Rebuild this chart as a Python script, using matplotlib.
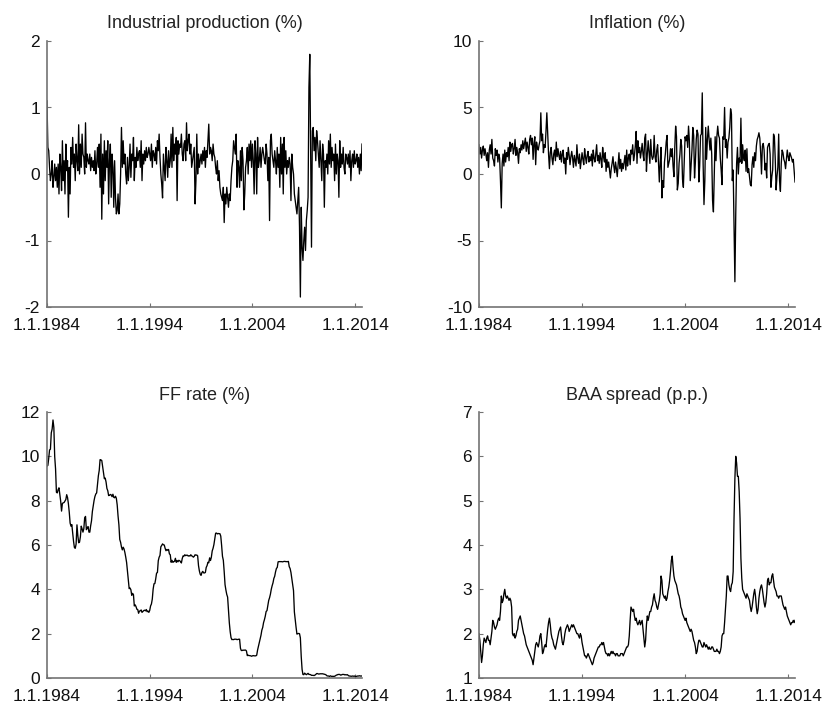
import numpy as np
import matplotlib
matplotlib.use('Agg')
import matplotlib.pyplot as plt

# monthly data, Jan 1984 - Sep 2014
ip = [1.1, 0.4, 0.35, 0.1, -0.1, 0.0, 0.2, -0.2, -0.05, 0.15, -0.1, 0.1,
      -0.2, 0.15, -0.3, 0.3, 0.1, -0.25, 0.5, -0.1, 0.2, -0.3, 0.45, 0.05,
      0.2, -0.65, 0.1, -0.3, 0.4, 0.15, 0.55, 0.1, 0.3, -0.1, 0.45, 0.2,
      0.05, 0.74, 0.0, 0.45, 0.1, 0.6, 0.3, 0.25, 0.0, 0.77, 0.1, 0.3,
      0.2, 0.15, 0.3, 0.05, 0.25, 0.1, 0.2, 0.05, 0.35, 0.0, 0.15, 0.4,
      0.1, 0.45, -0.2, 0.6, -0.68, 0.3, -0.3, 0.5, -0.1, 0.35, 0.1, 0.5,
      -0.45, 0.2, 0.45, -0.35, 0.3, 0.1, -0.5, 0.2, -0.35, -0.6, -0.55, -0.3,
      -0.6, -0.45, 0.0, 0.7, 0.1, 0.5, 0.15, 0.3, 0.0, -0.15, 0.25, -0.1,
      0.1, 0.45, -0.05, 0.3, 0.2, 0.55, -0.1, 0.25, 0.1, 0.4, 0.2, 0.3,
      0.35, 0.1, 0.5, -0.1, 0.3, 0.15, 0.35, 0.2, 0.4, 0.25, 0.3, 0.4,
      0.3, 0.2, 0.45, 0.1, 0.35, 0.3, 0.2, 0.4, 0.15, 0.5, 0.35, 0.6,
      0.25, 0.0, -0.15, -0.36, 0.3, 0.1, -0.1, 0.4, 0.2, -0.05, 0.35, 0.1,
      0.2, 0.6, 0.1, 0.7, 0.2, 0.45, 0.3, 0.55, -0.4, 0.5, 0.3, 0.45,
      0.4, 0.6, 0.3, 0.2, 0.45, 0.5, 0.2, 0.77, 0.35, 0.5, 0.6, 0.3,
      0.45, 0.1, 0.2, 0.3, 0.4, -0.45, -0.1, 0.6, 0.0, 0.3, 0.1, 0.2,
      0.3, 0.15, 0.35, 0.2, 0.4, 0.1, 0.35, 0.25, 0.5, 0.75, 0.3, 0.4,
      0.35, 0.2, 0.45, 0.3, 0.25, 0.1, 0.0, 0.2, -0.1, 0.05, -0.2, -0.3,
      -0.35, -0.4, -0.2, -0.73, -0.3, -0.45, -0.2, -0.35, -0.5, -0.3, -0.4, -0.1,
      0.1, 0.2, 0.5, 0.4, 0.3, 0.6, -0.2, 0.2, 0.1, -0.2, 0.35, -0.1,
      0.4, 0.2, -0.54, -0.3, 0.1, 0.2, 0.4, 0.0, 0.45, 0.2, 0.5, 0.1,
      0.45, 0.2, -0.3, 0.5, 0.3, -0.3, 0.55, 0.1, 0.2, 0.4, 0.1, 0.3,
      0.4, 0.3, 0.2, 0.15, 0.45, 0.3, -0.1, 0.25, -0.7, 0.5, 0.6, 0.3,
      0.2, 0.1, 0.35, 0.2, 0.0, 0.4, 0.1, 0.3, -0.2, 0.55, 0.0, 0.45,
      -0.3, 0.55, 0.1, 0.35, 0.0, 0.2, 0.1, 0.25, 0.15, -0.4, 0.3, 0.1,
      0.0, -0.3, -0.4, -0.5, -0.6, -0.4, -0.2, -0.8, -1.85, -0.5, -1.1, -1.3,
      -1.0, -0.8, -1.15, -0.7, -0.55, -0.35, 1.3, 1.8, 0.3, -1.1, 0.65, 0.7,
      0.35, 0.55, 0.2, 0.65, 0.5, 0.3, 0.1, 0.5, 0.2, -0.1, 0.45, 0.3,
      -0.5, 0.2, 0.1, 0.3, 0.0, 0.5, 0.15, 0.6, 0.1, 0.4, 0.2, 0.3,
      -0.1, 0.45, 0.0, 0.3, 0.2, -0.35, 0.5, 0.1, 0.3, 0.15, 0.4, 0.1,
      0.0, 0.3, 0.25, 0.15, 0.3, 0.1, 0.35, -0.1, 0.2, 0.3, 0.1, 0.35,
      0.15, 0.2, 0.3, 0.1, 0.25, 0.0, 0.3, 0.05, 0.45]

infl = [2.2, 1.5, 2.0, 1.2, 1.8, 2.1, 1.4, 1.9, 1.5, 1.0, 1.6, 0.5,
        1.8, 2.2, 1.5, 2.6, 1.2, 1.0, 0.6, 1.9, 1.4, 1.8, 0.9, 1.5,
        1.2, -0.5, -2.55, 0.8, 1.5, 0.6, 1.8, 0.9, 1.6, 1.3, 2.0, 1.0,
        2.4, 1.7, 2.2, 2.3, 1.5, 1.9, 2.6, 1.4, 2.0, 1.6, 0.8, 1.9,
        1.6, 2.2, 1.8, 2.5, 1.9, 2.3, 2.7, 1.7, 2.4, 2.0, 1.5, 2.6,
        2.9, 2.2, 2.7, 1.1, 2.3, 2.8, 0.7, 2.4, 2.0, 1.8, 2.2, 2.5,
        4.6, 2.5, 3.0, 1.6, 2.2, 2.0, 3.2, 4.6, 3.0, 1.5, 0.4, 1.6,
        2.0, 1.2, 0.7, 1.5, 1.8, 1.0, 2.4, 1.3, 1.9, 1.4, 1.1, 1.7,
        0.9, 1.5, 1.8, 0.8, 1.2, 0.0, 1.6, 1.1, 2.0, 1.4, 0.7, 1.3,
        1.7, 1.2, 0.5, 1.4, 1.0, 0.6, 2.2, 1.2, 0.8, 1.5, 0.4, 1.0,
        1.6, 1.1, 0.7, 1.9, 1.3, 0.8, 1.4, 1.7, 0.9, 1.3, 1.0, 1.5,
        0.6, 1.8, 1.2, 0.9, 1.5, 2.2, 1.0, 1.4, 0.8, 1.6, 1.1, 0.5,
        2.0, 1.3, 0.9, 1.6, 0.2, 1.1, 0.5, 0.9, 0.3, -0.3, 0.4, 0.8,
        1.3, 0.6, 0.1, 0.9, 0.4, -0.2, 0.7, 1.6, 0.4, 1.1, 0.2, 0.8,
        0.4, 0.9, 1.4, 0.3, 1.8, 0.6, 1.2, 1.5, 0.7, 1.8, 1.5, 2.2,
        1.0, 1.4, 2.1, 3.2, 0.8, 2.5, 1.6, 2.0, 1.2, 1.7, 2.3, 1.5,
        1.0, 2.7, 3.0, 0.2, 1.5, 2.5, 1.6, 0.8, 2.6, 1.4, 1.1, 1.3,
        2.9, 1.3, 0.9, 1.8, 2.2, 0.9, -0.6, 0.8, 2.0, -1.8, -0.5, -1.0,
        0.9, 1.5, 2.4, 2.9, 0.5, 0.8, 1.1, 1.9, 1.3, 1.9, 0.6, -0.2,
        2.0, 3.6, 2.8, -1.2, -0.7, 0.8, 1.5, 2.6, 2.1, -0.4, -1.0, 1.0,
        2.8, 2.5, 2.9, 2.0, 3.6, 2.5, -0.5, 0.7, 1.8, 3.5, 2.9, -0.3,
        0.9, 2.6, 3.3, 3.0, -0.6, 0.6, 2.9, 3.0, 6.1, 0.8, -2.3, -0.5,
        3.5, 1.1, 2.6, 3.6, 2.6, 1.8, 2.7, 1.5, -2.0, -2.85, 0.1, 2.8,
        1.0, 2.8, 3.6, 2.9, 2.7, 1.2, 0.3, -0.8, 2.8, 2.6, 5.0, 2.0,
        2.6, 1.2, 2.4, 2.7, 3.5, 4.9, 4.5, -0.5, 0.3, -4.0, -8.1, -3.0,
        0.8, 2.0, 0.0, 1.2, 0.9, 4.2, 0.8, 2.2, 1.3, 1.0, 1.8, 0.2,
        1.9, 0.1, 0.4, -0.2, -0.8, -0.9, 0.7, 1.3, 0.5, 1.6, 1.0, 2.1,
        2.6, 2.8, 3.1, 2.7, 1.6, 0.0, 2.1, 2.3, 1.8, 0.3, 0.8, -0.3,
        2.0, 2.2, 2.3, 1.5, -1.0, -0.2, 0.3, 3.0, 2.8, 1.1, -1.2, -0.2,
        0.5, 3.0, -0.5, -1.3, 0.8, 1.8, 1.6, 1.1, 0.9, 0.4, 1.1, 1.8,
        1.3, 1.0, 1.6, 1.4, 1.2, 0.9, 1.1, 0.3, -0.6]

ffr = [9.56, 9.59, 9.91, 10.29, 10.32, 11.06, 11.23, 11.64, 11.30, 9.99, 9.43, 8.38,
       8.35, 8.50, 8.58, 8.27, 7.97, 7.53, 7.88, 7.90, 7.92, 7.99, 8.05, 8.27,
       8.14, 7.86, 7.48, 6.99, 6.85, 6.92, 6.56, 6.17, 5.89, 5.85, 6.04, 6.91,
       6.43, 6.10, 6.13, 6.37, 6.85, 6.73, 6.58, 6.73, 7.22, 7.29, 6.69, 6.77,
       6.83, 6.58, 6.58, 6.87, 7.09, 7.51, 7.75, 8.01, 8.19, 8.30, 8.35, 8.76,
       9.12, 9.36, 9.85, 9.84, 9.81, 9.53, 9.24, 8.99, 9.02, 8.84, 8.55, 8.45,
       8.23, 8.24, 8.28, 8.26, 8.18, 8.29, 8.15, 8.13, 8.20, 8.11, 7.81, 7.31,
       6.91, 6.25, 6.12, 5.91, 5.78, 5.90, 5.82, 5.66, 5.45, 5.21, 4.81, 4.43,
       4.03, 4.06, 3.98, 3.73, 3.82, 3.76, 3.25, 3.30, 3.22, 3.10, 3.09, 2.92,
       3.02, 3.03, 3.07, 2.96, 3.00, 3.04, 3.06, 3.03, 3.09, 2.99, 3.02, 2.96,
       3.05, 3.25, 3.34, 3.56, 4.01, 4.25, 4.26, 4.47, 4.73, 4.76, 5.29, 5.45,
       5.53, 5.92, 5.98, 6.05, 6.01, 6.00, 5.85, 5.74, 5.80, 5.76, 5.80, 5.60,
       5.56, 5.22, 5.31, 5.22, 5.24, 5.27, 5.40, 5.22, 5.30, 5.24, 5.31, 5.29,
       5.25, 5.19, 5.39, 5.51, 5.50, 5.56, 5.52, 5.54, 5.54, 5.50, 5.52, 5.50,
       5.56, 5.51, 5.49, 5.45, 5.49, 5.56, 5.54, 5.55, 5.51, 5.07, 4.83, 4.68,
       4.63, 4.76, 4.81, 4.74, 4.74, 4.76, 4.99, 5.07, 5.22, 5.20, 5.42, 5.30,
       5.45, 5.73, 5.85, 6.02, 6.27, 6.53, 6.54, 6.50, 6.52, 6.51, 6.51, 6.40,
       5.98, 5.49, 5.31, 4.80, 4.21, 3.97, 3.77, 3.65, 3.07, 2.49, 2.09, 1.82,
       1.73, 1.74, 1.73, 1.75, 1.75, 1.75, 1.73, 1.74, 1.75, 1.75, 1.34, 1.24,
       1.24, 1.26, 1.25, 1.26, 1.26, 1.22, 1.01, 1.03, 1.01, 1.01, 1.00, 0.98,
       1.00, 1.01, 1.00, 1.00, 1.00, 1.03, 1.26, 1.43, 1.61, 1.76, 1.93, 2.16,
       2.28, 2.50, 2.63, 2.79, 3.00, 3.04, 3.26, 3.50, 3.62, 3.78, 4.00, 4.16,
       4.29, 4.49, 4.59, 4.79, 4.94, 4.99, 5.24, 5.25, 5.25, 5.25, 5.25, 5.24,
       5.25, 5.26, 5.26, 5.25, 5.25, 5.25, 5.26, 5.02, 4.94, 4.76, 4.49, 4.24,
       3.94, 2.98, 2.61, 2.28, 1.98, 2.00, 2.01, 2.00, 1.81, 0.97, 0.39, 0.16,
       0.15, 0.22, 0.18, 0.15, 0.18, 0.21, 0.16, 0.16, 0.15, 0.12, 0.12, 0.12,
       0.11, 0.13, 0.16, 0.20, 0.20, 0.18, 0.18, 0.19, 0.19, 0.19, 0.19, 0.18,
       0.17, 0.16, 0.14, 0.10, 0.09, 0.09, 0.07, 0.10, 0.08, 0.07, 0.08, 0.07,
       0.08, 0.10, 0.13, 0.14, 0.16, 0.16, 0.16, 0.13, 0.14, 0.16, 0.16, 0.16,
       0.14, 0.15, 0.14, 0.15, 0.11, 0.09, 0.09, 0.08, 0.08, 0.09, 0.08, 0.09,
       0.07, 0.07, 0.08, 0.09, 0.09, 0.10, 0.09, 0.09, 0.09]

baa = [2.0, 1.85, 1.6, 1.35, 1.5, 1.75, 1.9, 1.85, 1.8, 1.9, 1.95, 1.85,
       1.85, 1.75, 1.9, 2.05, 2.3, 2.25, 2.15, 2.1, 2.15, 2.2, 2.3, 2.35,
       2.3, 2.5, 2.85, 2.7, 2.75, 2.9, 3.0, 2.85, 2.8, 2.85, 2.8, 2.75,
       2.8, 2.75, 2.6, 2.0, 1.95, 2.0, 1.9, 1.95, 2.05, 2.1, 2.3, 2.35,
       2.4, 2.3, 2.2, 2.1, 2.0, 1.95, 1.85, 1.75, 1.7, 1.65, 1.6, 1.55,
       1.5, 1.45, 1.4, 1.3, 1.45, 1.6, 1.75, 1.8, 1.75, 1.7, 1.8, 1.95,
       2.0, 1.8, 1.55, 1.6, 1.7, 1.75, 1.7, 1.9, 2.1, 2.25, 2.35, 2.2,
       2.0, 1.9, 1.85, 1.75, 1.7, 1.65, 1.75, 1.85, 1.95, 2.05, 2.1, 2.15,
       1.95, 1.8, 1.75, 1.85, 2.0, 2.1, 2.15, 2.2, 2.15, 2.05, 2.1, 2.15,
       2.2, 2.15, 2.2, 2.15, 2.1, 2.05, 2.0, 2.0, 1.95, 1.9, 2.0, 1.95,
       1.8, 1.7, 1.6, 1.5, 1.5, 1.45, 1.5, 1.55, 1.5, 1.45, 1.4, 1.35,
       1.3, 1.35, 1.45, 1.5, 1.55, 1.6, 1.65, 1.7, 1.7, 1.75, 1.75, 1.8,
       1.75, 1.8, 1.7, 1.6, 1.55, 1.55, 1.5, 1.55, 1.5, 1.55, 1.6, 1.55,
       1.6, 1.55, 1.55, 1.5, 1.55, 1.55, 1.5, 1.5, 1.5, 1.55, 1.55, 1.55,
       1.5, 1.55, 1.6, 1.65, 1.7, 1.7, 1.75, 1.95, 2.3, 2.6, 2.55, 2.5,
       2.55, 2.4, 2.3, 2.35, 2.25, 2.2, 2.25, 2.3, 2.2, 2.25, 2.3, 2.1,
       1.9, 1.7, 1.85, 2.2, 2.4, 2.3, 2.4, 2.5, 2.5, 2.6, 2.65, 2.8,
       2.9, 2.75, 2.7, 2.6, 2.55, 2.65, 2.75, 2.9, 3.3, 3.2, 2.9, 2.85,
       2.8, 2.85, 2.75, 2.8, 2.95, 3.05, 3.2, 3.4, 3.65, 3.75, 3.5, 3.3,
       3.2, 3.15, 3.1, 3.0, 2.9, 2.85, 2.75, 2.6, 2.55, 2.45, 2.4, 2.35,
       2.3, 2.35, 2.25, 2.2, 2.15, 2.1, 2.05, 2.1, 2.05, 1.95, 1.85, 1.8,
       1.7, 1.55, 1.6, 1.75, 1.85, 1.85, 1.8, 1.75, 1.7, 1.7, 1.8, 1.75,
       1.7, 1.75, 1.7, 1.65, 1.7, 1.65, 1.65, 1.7, 1.7, 1.65, 1.6, 1.6,
       1.6, 1.65, 1.6, 1.6, 1.55, 1.6, 1.7, 1.95, 2.0, 2.0, 2.25, 2.55,
       2.85, 3.3, 3.3, 3.1, 3.0, 2.95, 3.1, 3.15, 3.4, 4.6, 5.5, 6.0,
       5.85, 5.55, 5.55, 5.2, 4.6, 3.7, 3.25, 3.0, 2.95, 2.9, 2.85, 2.8,
       2.9, 2.85, 2.8, 2.75, 2.6, 2.5, 2.6, 2.75, 2.9, 3.0, 2.85, 2.6,
       2.45, 2.55, 2.8, 2.95, 3.05, 3.1, 3.0, 2.85, 2.7, 2.6, 2.7, 2.9,
       3.2, 3.25, 3.1, 3.15, 3.15, 3.3, 3.35, 3.2, 3.05, 3.0, 2.95, 2.85,
       2.85, 2.8, 2.85, 2.85, 2.85, 2.75, 2.65, 2.6, 2.55, 2.6, 2.5, 2.4,
       2.35, 2.3, 2.25, 2.2, 2.25, 2.25, 2.3, 2.25, 2.3]

titles = ['Industrial production (%)', 'Inflation (%)', 'FF rate (%)', 'BAA spread (p.p.)']
series = [ip, infl, ffr, baa]
ylims = [(-2, 2), (-10, 10), (0, 12), (1, 7)]
yticks = [[-2, -1, 0, 1, 2], [-10, -5, 0, 5, 10], [0, 2, 4, 6, 8, 10, 12], [1, 2, 3, 4, 5, 6, 7]]
xtick_years = [1984, 1994, 2004, 2014]
xtick_labels = ['1.1.1984', '1.1.1994', '1.1.2004', '1.1.2014']

plt.rcParams['font.family'] = ['Liberation Sans', 'DejaVu Sans']

W, H = 826, 709
fig = plt.figure(figsize=(W / 100, H / 100), dpi=100)

# axes boxes in pixels: left, top, right, bottom
boxes = [(47, 41, 362, 307), (479, 41, 795, 307),
         (47, 412, 362, 678), (479, 412, 795, 678)]

for k in range(4):
    l, t, r, b = boxes[k]
    ax = fig.add_axes([l / W, 1 - b / H, (r - l) / W, (b - t) / H])
    y = np.array(series[k])
    x = 1984 + np.arange(len(y)) / 12.0
    ax.plot(x, y, color='black', lw=0.95)
    ax.set_xlim(x[0], x[-1])
    ax.set_ylim(*ylims[k])
    ax.set_yticks(yticks[k])
    ax.set_yticklabels([str(v) for v in yticks[k]])
    ax.set_xticks(xtick_years)
    ax.set_xticklabels(xtick_labels)
    for s in ['top', 'right']:
        ax.spines[s].set_visible(False)
    for s in ['left', 'bottom']:
        ax.spines[s].set_color('0.45')
        ax.spines[s].set_linewidth(1.2)
    ax.tick_params(axis='both', direction='in', length=3, width=0.8,
                   color='0.45', labelsize=12.5, labelcolor='#111111')
    ax.tick_params(axis='x', pad=8)
    ax.tick_params(axis='y', pad=5)
    ax.set_title(titles[k], fontsize=13, color='#222222', pad=9)

fig.savefig('out.png', dpi=100)
